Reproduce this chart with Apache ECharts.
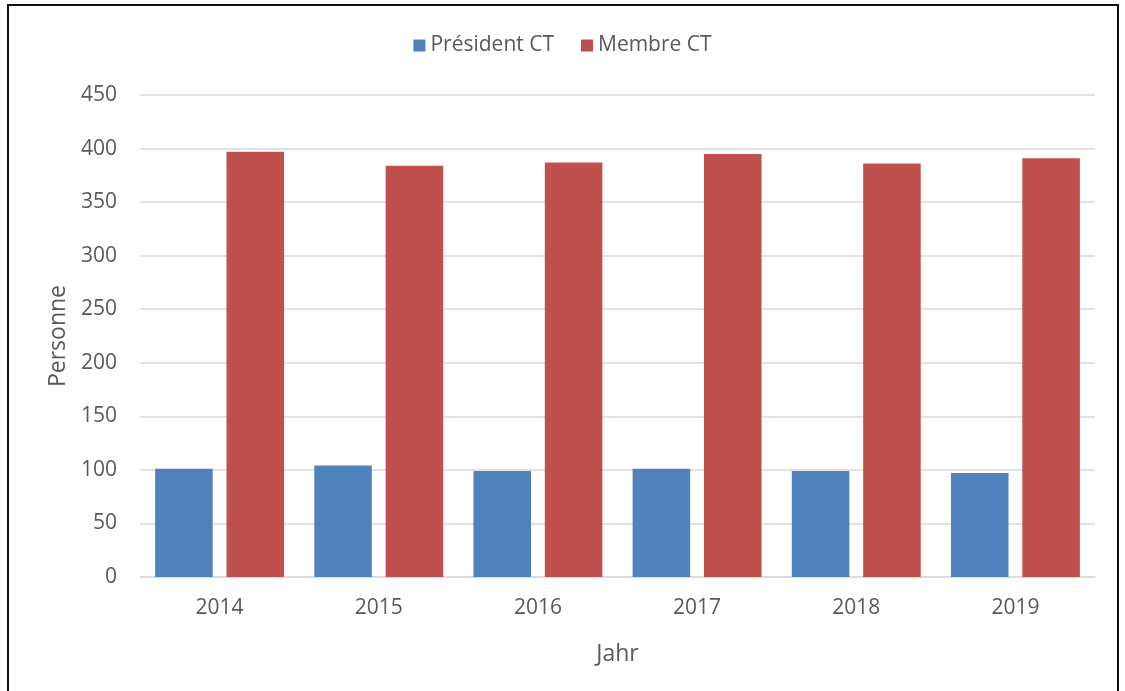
<!DOCTYPE html>
<html>
<head>
<meta charset="utf-8">
<script src="https://cdn.jsdelivr.net/npm/echarts@6/dist/echarts.min.js"></script>
<style>
  html, body { margin: 0; padding: 0; background: #fff; overflow: hidden; }
  #chart { width: 1125px; height: 691px; }
  #frame {
    position: absolute; left: 7px; top: 4px; width: 1112px; height: 700px;
    border: 2px solid #111; pointer-events: none; box-sizing: border-box;
  }
</style>
</head>
<body>
<div id="chart"></div>
<div id="frame"></div>
<script>
const years = ['2014', '2015', '2016', '2017', '2018', '2019'];
const presidentCT = [101, 104, 99, 101, 99, 97];
const membreCT = [397, 384, 387, 395, 386, 391];
const seriesNames = ['Président CT', 'Membre CT'];
const colors = ['#4f81bd', '#c0504d'];

const font = '"Open Sans", "Liberation Sans", sans-serif';
const textColor = '#595959';

const chart = echarts.init(document.getElementById('chart'));

chart.setOption({
  animation: false,
  color: colors,
  textStyle: { fontFamily: font },
  legend: {
    top: 30,
    left: 'center',
    itemWidth: 12,
    itemHeight: 12,
    itemGap: 27,
    icon: 'rect',
    textStyle: { fontSize: 21, color: textColor, fontFamily: font }
  },
  grid: {
    left: 140,
    right: 30,
    top: 95,
    bottom: 114
  },
  xAxis: {
    type: 'category',
    data: years,
    name: 'Jahr',
    nameLocation: 'middle',
    nameGap: 66,
    nameTextStyle: { fontSize: 23, color: textColor, fontFamily: font },
    axisLine: { lineStyle: { color: '#d9d9d9', width: 1.5 } },
    axisTick: { show: false },
    axisLabel: { fontSize: 21, color: textColor, margin: 21, fontFamily: font }
  },
  yAxis: {
    type: 'value',
    min: 0,
    max: 450,
    interval: 50,
    name: 'Personne',
    nameLocation: 'middle',
    nameGap: 70,
    nameTextStyle: { fontSize: 23, color: textColor, fontFamily: font },
    axisLine: { show: false },
    axisTick: { show: false },
    axisLabel: { fontSize: 21, color: textColor, margin: 23, fontFamily: font },
    splitLine: { lineStyle: { color: '#d9d9d9', width: 1.5 } }
  },
  series: [
    {
      name: seriesNames[0],
      type: 'bar',
      data: presidentCT,
      barGap: '24%',
      barCategoryGap: '19%'
    },
    {
      name: seriesNames[1],
      type: 'bar',
      data: membreCT,
      barGap: '24%',
      barCategoryGap: '19%'
    }
  ]
});
</script>
</body>
</html>
